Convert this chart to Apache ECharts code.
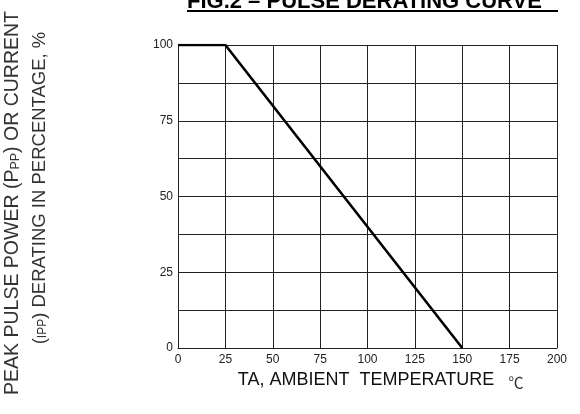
<!DOCTYPE html>
<html>
<head>
<meta charset="utf-8">
<script src="https://cdn.jsdelivr.net/npm/echarts@6/dist/echarts.min.js"></script>
<style>
  html, body { margin: 0; padding: 0; background: #ffffff; }
  #chart { width: 580px; height: 414px; }
</style>
</head>
<body>
<div id="chart"></div>
<script>
// derating curve points: [temperature, percent]
const temps = [0, 25, 150];
const derating = [100, 100, 0];
const xTicks = [0, 25, 50, 75, 100, 125, 150, 175, 200];
const yTicks = [0, 25, 50, 75, 100];

const chart = echarts.init(document.getElementById('chart'));
const font = '"Liberation Sans", Arial, sans-serif';

chart.setOption({
  animation: false,
  backgroundColor: '#ffffff',
  grid: {
    left: 178,
    right: 23,
    top: 45,
    bottom: 66
  },
  xAxis: {
    type: 'value',
    min: 0,
    max: 200,
    interval: 25,
    axisLine: { show: true, lineStyle: { color: '#222', width: 1 } },
    axisTick: { show: false },
    axisLabel: {
      color: '#222',
      fontSize: 12,
      fontFamily: font,
      margin: 6,
      formatter: v => (xTicks.indexOf(v) >= 0 ? String(v) : '')
    },
    splitLine: { show: true, lineStyle: { color: '#222', width: 1 } }
  },
  yAxis: {
    type: 'value',
    min: 0,
    max: 100,
    interval: 12.5,
    axisLine: { show: true, lineStyle: { color: '#222', width: 1 } },
    axisTick: { show: false },
    axisLabel: {
      color: '#222',
      fontSize: 12,
      fontFamily: font,
      margin: 5,
      formatter: v => (yTicks.indexOf(v) >= 0 ? String(v) : '')
    },
    splitLine: { show: true, lineStyle: { color: '#222', width: 1 } }
  },
  series: [{
    type: 'line',
    data: temps.map((t, i) => [t, derating[i]]),
    symbol: 'none',
    lineStyle: { color: '#000', width: 2.6 }
  }],
  graphic: [
    // title (cut at top edge) with underline
    {
      type: 'text',
      left: 187,
      top: -9,
      style: {
        text: 'FIG.2 – PULSE DERATING CURVE',
        font: 'bold 22px ' + font,
        fill: '#000'
      }
    },
    {
      type: 'rect',
      shape: { x: 187, y: 10, width: 371, height: 2 },
      style: { fill: '#000' }
    },
    // y axis name, two rotated lines
    {
      type: 'text',
      x: 13,
      y: 203,
      rotation: Math.PI / 2,
      style: {
        text: 'PEAK PULSE POWER (P{s|PP}) OR CURRENT',
        font: '19.5px ' + font,
        fill: '#333',
        align: 'center',
        verticalAlign: 'middle',
        rich: { s: { fontSize: 12.5, fontFamily: font, fill: '#333', padding: [6, 0, 0, 0] } }
      }
    },
    {
      type: 'text',
      x: 40,
      y: 188,
      rotation: Math.PI / 2,
      style: {
        text: '({s|IPP}) DERATING IN PERCENTAGE, %',
        font: '18.5px ' + font,
        fill: '#333',
        align: 'center',
        verticalAlign: 'middle',
        rich: { s: { fontSize: 12, fontFamily: font, fill: '#333', padding: [6, 0, 0, 0] } }
      }
    },
    // x axis name
    {
      type: 'text',
      x: 366,
      y: 380,
      style: {
        text: 'TA, AMBIENT  TEMPERATURE',
        font: '18px ' + font,
        fill: '#111',
        align: 'center',
        verticalAlign: 'middle'
      }
    },
    {
      type: 'text',
      x: 516,
      y: 382,
      style: {
        text: '℃',
        font: '15px "Noto Sans CJK SC", sans-serif',
        fill: '#333',
        align: 'center',
        verticalAlign: 'middle'
      }
    }
  ]
});
</script>
</body>
</html>
